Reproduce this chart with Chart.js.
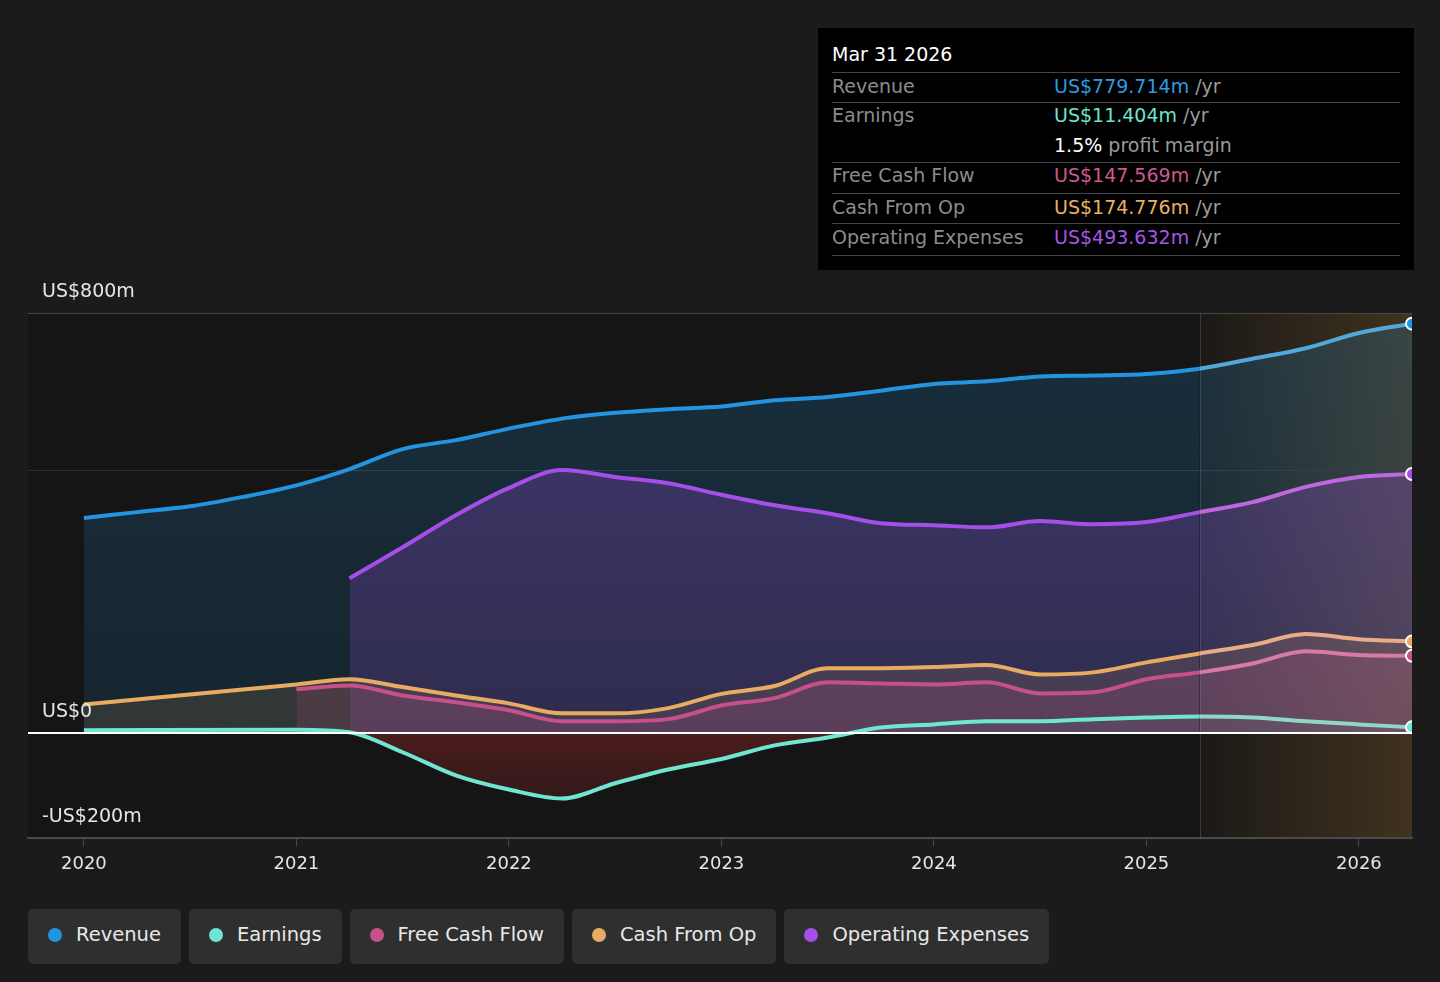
<!DOCTYPE html>
<html>
<head>
<meta charset="utf-8">
<script src="https://cdn.jsdelivr.net/npm/chart.js@4.4.1/dist/chart.umd.min.js"></script>
<style>
  body { margin: 0; background: #1b1b1b; font-family: "DejaVu Sans", sans-serif; }
  #wrap { position: relative; width: 1440px; height: 982px; overflow: hidden; }
  #box { position: absolute; left: 0; top: 0; width: 1440px; height: 890px; }
  #tip { position: absolute; left: 818px; top: 28px; width: 596px; height: 242px; background: #000; }
  #tip .title { position: absolute; left: 14px; top: 15px; color: #fff; font-size: 19px; }
  #tip .row { position: absolute; left: 14px; width: 568px; font-size: 19px; color: #8c8c8c; }
  #tip .row span.v { position: absolute; left: 222px; }
  #tip .rule { position: absolute; left: 14px; width: 568px; height: 1px; background: #444; }
  #tip .yr { color: #9a9a9a; }
  #legend { position: absolute; left: 28px; top: 909px; display: flex; gap: 8px; }
  .chip { height: 55px; box-sizing: border-box; padding: 0 20px 4px 20px; background: #2f2f2f; border-radius: 5px;
          display: flex; align-items: center; color: #e8e8e8; font-size: 19.5px; }
  .chip i { display: inline-block; width: 14px; height: 14px; border-radius: 50%; margin-right: 14px; }
</style>
</head>
<body>
<div id="wrap">
  <div id="box"><canvas id="chart"></canvas></div>
  <div id="tip">
    <div class="title">Mar 31 2026</div>
    <div class="rule" style="top:44px"></div>
    <div class="row" style="top:47px">Revenue<span class="v"><span style="color:#2d9be0">US$779.714m</span> <span class="yr">/yr</span></span></div>
    <div class="rule" style="top:74px"></div>
    <div class="row" style="top:76px">Earnings<span class="v"><span style="color:#6fe3cf">US$11.404m</span> <span class="yr">/yr</span></span></div>
    <div class="row" style="top:106px"><span class="v"><span style="color:#fff">1.5%</span> <span class="yr">profit margin</span></span></div>
    <div class="rule" style="top:134px"></div>
    <div class="row" style="top:136px">Free Cash Flow<span class="v"><span style="color:#d0578f">US$147.569m</span> <span class="yr">/yr</span></span></div>
    <div class="rule" style="top:165px"></div>
    <div class="row" style="top:168px">Cash From Op<span class="v"><span style="color:#e9b063">US$174.776m</span> <span class="yr">/yr</span></span></div>
    <div class="rule" style="top:195px"></div>
    <div class="row" style="top:198px">Operating Expenses<span class="v"><span style="color:#a557e8">US$493.632m</span> <span class="yr">/yr</span></span></div>
    <div class="rule" style="top:227px"></div>
  </div>
  <div id="legend"></div>
</div>
<script>
// === Data (US$ m, trailing twelve months) ===
const dates = [2020.00, 2020.25, 2020.50, 2020.75, 2021.00, 2021.25, 2021.50, 2021.75,
               2022.00, 2022.25, 2022.50, 2022.75, 2023.00, 2023.25, 2023.50, 2023.75,
               2024.00, 2024.25, 2024.50, 2024.75, 2025.00, 2025.25, 2025.50, 2025.75,
               2026.00, 2026.25];
const revenue  = [410, 421, 432, 450, 472, 503, 541, 558, 580, 599, 610, 617, 622, 634, 640, 652,
                  665, 670, 679, 681, 684, 694, 713, 733, 762, 779.714];
const earnings = [6, null, null, null, 7, 2, -36, -80, -107, -124, -95, -69, -49, -23, -8, 11,
                  17, 23, 23, 27, 30, 32, 30, 23, 17, 11.404];
const freeCashFlow = [null, null, null, null, 84, 91, 72, 59, 44, 23, 23, 27, 53, 67, 97, 95,
                      93, 97, 76, 78, 103, 116, 133, 156, 149, 147.569];
const cashFromOp = [55, null, null, null, 93, 103, 88, 72, 57, 38, 38, 48, 75, 90, 124, 124,
                    126, 130, 112, 116, 135, 152, 168, 189, 179, 174.776];
const opExpenses = [null, null, null, null, null, 295, 354, 415, 467, 501, 488, 476, 454, 434, 419, 400,
                    396, 392, 404, 398, 402, 421, 440, 469, 488, 493.632];

const xTicks = [2020, 2021, 2022, 2023, 2024, 2025, 2026];
const yGrid = [-200, 0, 500, 800];
const yLabels = [800, 0, -200];
const forecastStart = 2025.25;

const series = [
  { label: "Revenue", data: revenue, color: "#2394df", fc: "#52a8da", fill: [35, 148, 223, 0.2, 0.13] },
  { label: "Earnings", data: earnings, color: "#6ee6d1", fc: "#8fd6cb", fill: null },
  { label: "Free Cash Flow", data: freeCashFlow, color: "#c5508a", fc: "#d77aa6", fill: [197, 80, 138, 0.22, 0.16] },
  { label: "Cash From Op", data: cashFromOp, color: "#e8ab62", fc: "#e8ad86", fill: [232, 171, 98, 0.16, 0.12] },
  { label: "Operating Expenses", data: opExpenses, color: "#a64ee8", fc: "#bd68de", fill: [166, 78, 232, 0.3, 0.16] }
];
const drawOrder = [5, 1, 2, 3, 4];

function money(v) {
  if (v < 0) return "-US$" + Math.abs(v) + "m";
  return v === 0 ? "US$0" : "US$" + v + "m";
}

function vGrad(chart, rgba) {
  const { ctx, chartArea, scales } = chart;
  if (!chartArea) return null;
  const y0 = scales.y.getPixelForValue(0);
  const g = ctx.createLinearGradient(0, chartArea.top, 0, y0);
  g.addColorStop(0, `rgba(${rgba[0]},${rgba[1]},${rgba[2]},${rgba[3]})`);
  g.addColorStop(1, `rgba(${rgba[0]},${rgba[1]},${rgba[2]},${rgba[4]})`);
  return g;
}

function redGrad(chart) {
  const { ctx, chartArea, scales } = chart;
  if (!chartArea) return null;
  const y0 = scales.y.getPixelForValue(0);
  const g = ctx.createLinearGradient(0, y0, 0, chartArea.bottom);
  g.addColorStop(0, "rgba(200,45,45,0.3)");
  g.addColorStop(1, "rgba(200,45,45,0.08)");
  return g;
}

// === Background + forecast zone ===
const backdrop = {
  id: "backdrop",
  beforeDraw(chart) {
    const { ctx, chartArea: a, scales } = chart;
    ctx.save();
    ctx.fillStyle = "#151515";
    ctx.fillRect(a.left, a.top, a.right - a.left, a.bottom - a.top);
    const fx = scales.x.getPixelForValue(forecastStart);
    const g = ctx.createLinearGradient(fx, 0, a.right, 0);
    g.addColorStop(0, "rgba(150,110,50,0.05)");
    g.addColorStop(1, "rgba(150,110,50,0.33)");
    ctx.fillStyle = g;
    ctx.fillRect(fx, a.top, a.right - fx, a.bottom - a.top);
    ctx.restore();
  },
  beforeDatasetsDraw(chart) {
    const { ctx, chartArea: a, scales } = chart;
    const fx = Math.round(scales.x.getPixelForValue(forecastStart)) + 0.5;
    ctx.save();
    ctx.strokeStyle = "rgba(255,255,255,0.14)";
    ctx.lineWidth = 1;
    ctx.beginPath();
    ctx.moveTo(fx, a.top);
    ctx.lineTo(fx, a.bottom);
    ctx.stroke();
    ctx.restore();
  },
  afterDatasetsDraw(chart) {
    const { ctx, chartArea: a, scales } = chart;
    const y0 = Math.round(scales.y.getPixelForValue(0));
    ctx.save();
    ctx.fillStyle = "#ffffff";
    ctx.fillRect(a.left, y0 - 1, a.right - a.left, 2);
    ctx.font = "19px 'DejaVu Sans'";
    ctx.fillStyle = "#e6e6e6";
    ctx.textBaseline = "middle";
    yLabels.forEach(v => {
      ctx.fillText(money(v), a.left + 14, scales.y.getPixelForValue(v) - 21);
    });
    ctx.restore();
  }
};

const last = dates.length - 1;

new Chart(document.getElementById("chart"), {
  type: "line",
  data: {
    labels: dates,
    datasets: series.map((s, i) => ({
      label: s.label,
      data: s.data,
      order: drawOrder[i],
      borderColor: s.color,
      borderWidth: 4,
      cubicInterpolationMode: "monotone",
      spanGaps: true,
      pointRadius: ctx => ctx.dataIndex === last ? 6 : 0,
      pointHoverRadius: 0,
      pointBackgroundColor: s.color,
      pointBorderColor: "#ffffff",
      pointBorderWidth: 2,
      segment: {
        borderColor: ctx => ctx.p0.parsed.x >= forecastStart - 0.001 ? s.fc : undefined
      },
      fill: s.fill
        ? { target: "origin", above: ctx => vGrad(ctx.chart, s.fill) }
        : { target: "origin", above: "rgba(110,230,210,0.05)", below: ctx => redGrad(ctx.chart) },
      backgroundColor: s.fill ? ctx => vGrad(ctx.chart, s.fill) : "rgba(0,0,0,0)"
    }))
  },
  options: {
    responsive: true,
    maintainAspectRatio: false,
    animation: false,
    events: [],
    layout: { padding: { left: 28, right: 28, top: 313, bottom: 8 } },
    plugins: { legend: { display: false }, tooltip: { enabled: false } },
    scales: {
      x: {
        type: "linear",
        min: 2019.737,
        max: 2026.25,
        afterBuildTicks: axis => { axis.ticks = xTicks.map(v => ({ value: v })); },
        ticks: {
          color: "#e6e6e6",
          font: { family: "DejaVu Sans", size: 18 },
          padding: 7,
          maxRotation: 0,
          callback: v => String(v)
        },
        grid: { drawOnChartArea: false, drawTicks: true, tickLength: 8, color: "#4a4a4a" },
        border: { display: true, color: "#4a4a4a", width: 2 }
      },
      y: {
        min: -200,
        max: 800,
        afterBuildTicks: axis => { axis.ticks = yGrid.map(v => ({ value: v })); },
        ticks: { display: false },
        grid: {
          drawTicks: false,
          color: ctx => ctx.tick.value === 800 ? "#474747" : ctx.tick.value === 500 ? "#303030" : "rgba(0,0,0,0)",
          lineWidth: 1
        },
        border: { display: false }
      }
    }
  },
  plugins: [backdrop]
});

// === HTML legend ===
const legend = document.getElementById("legend");
series.forEach(s => {
  const chip = document.createElement("div");
  chip.className = "chip";
  chip.innerHTML = `<i style="background:${s.color}"></i>${s.label}`;
  legend.appendChild(chip);
});
</script>
</body>
</html>
